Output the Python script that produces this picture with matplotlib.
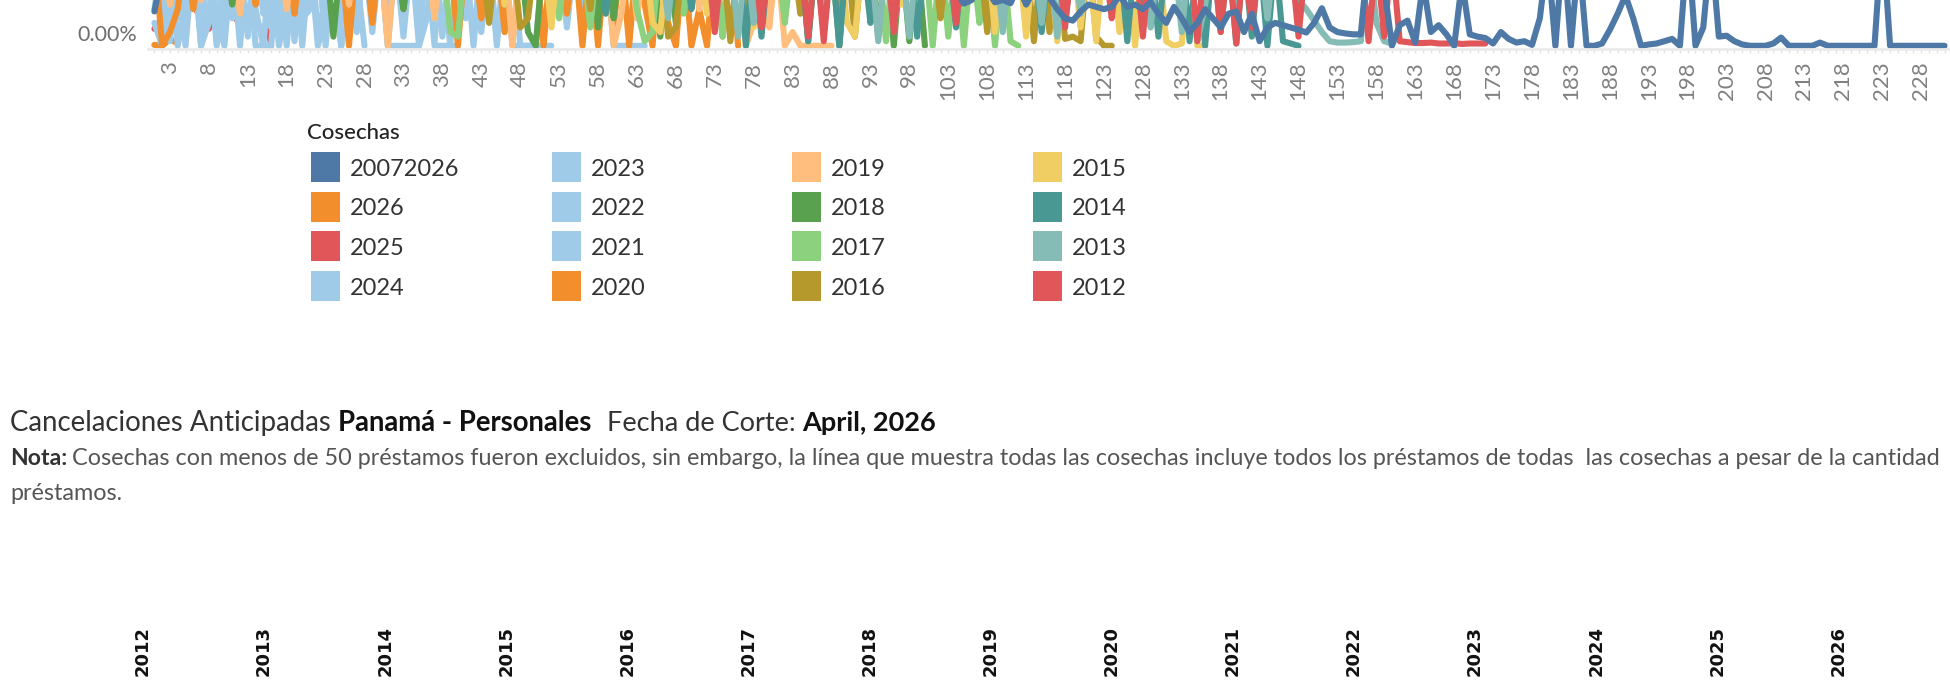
import numpy as np
import matplotlib
matplotlib.use('Agg')
import matplotlib.pyplot as plt
from matplotlib.patches import Rectangle
from matplotlib.transforms import ScaledTranslation

plt.rcParams['font.family'] = ['Lato', 'DejaVu Sans']

# --- data: tasa mensual de cancelacion anticipada por mes de vida (unidad = alto visible del eje) ---
cosechas = ['20072026', '2026', '2025', '2024', '2023', '2022', '2021', '2020',
            '2019', '2018', '2017', '2016', '2015', '2014', '2013', '2012']
colores = ['#4e79a7', '#f28e2b', '#e15759', '#a0cbe8', '#a0cbe8', '#a0cbe8', '#a0cbe8', '#f28e2b',
           '#ffbe7d', '#59a14f', '#8cd17d', '#b6992d', '#f1ce63', '#499894', '#86bcb6', '#e15759']

todas = [.75, 1.6, 2.1, 1.8, 2.3, 1.9, 2.2, 1.7, 2.0, 2.4,
         1.9, 2.1, 1.8, 2.2, 2.0, 1.7, 2.3, 1.9, 2.1, 1.8,
         2.0, 2.2, 1.9, 1.7, 2.1, 2.3, 1.8, 2.0, 1.9, 2.2,
         1.8, 2.1, 2.0, 1.7, 2.2, 1.9, 2.3, 1.8, 2.0, 2.1,
         1.9, 1.7, 2.2, 2.0, 1.8, 2.1, 1.9, 2.3, 2.0, 1.8,
         2.1, 1.9, 1.7, 2.2, 2.0, 1.8, 2.1, 1.9, 2.2, 1.7,
         2.0, 1.8, 2.1, 1.9, 2.3, 1.7, 2.0, 1.9, 2.2, 1.8,
         1.6, 1.9, 2.1, 1.8, 1.7, 2.0, 1.9, 1.6, 1.8, 2.1,
         1.7, 1.9, 1.6, 1.8, 2.0, 1.7, 1.5, 1.8, 1.6, 1.9,
         1.7, 1.5, 1.8, 1.6, 1.4, 1.7, 1.5, 1.6, 1.4, 1.5,
         1.3, 1.6, 1.4, 1.2, .92, 1.0, 1.3, 1.2, .95, 1.0,
         .93, 1.3, .9, 1.2, 1.1, 1.05, .8, .6, .55, .75,
         .9, .85, .8, .85, 1.1, .85, .9, .8, .95, .7,
         .5, .85, .6, .3, .5, .8, .6, .4, .7, .75,
         .3, .7, .1, .4, .5, .45, .4, .35, .29, .5,
         .82, .4, .3, .27, .25, .25, 2.0, 2.2, 1.3, 0,
         .45, .55, .07, 1.4, .3, .45, .25, 0, 1.4, .25,
         .2, .17, .05, .3, .15, .07, .1, .02, .6, 2.0,
         0, 2.2, 0, 2.0, 0, 0, .05, .35, .7, 1.1,
         .6, 0, .03, .05, .1, .15, 0, 2.3, 0, .4,
         2.2, .2, .22, .1, .03, 0, 0, 0, .05, .18,
         0, 0, 0, 0, .07, 0, 0, 0, 0, 0,
         0, 0, 2.5, 0, 0, 0, 0, 0, 0, 0, 0]
c2026 = [.02, 0, .15, .05]
c2025 = [.37, .6, .93, .9, 1.1, .9, .6, .37, .8, .95, .7, .48, .5, .9, 1.3, 0]
c2024 = [.5, 0, 2, .6, .9, 2, 0, .7, 2, .3, 2, .8, 2, 0, 0, 0, 2, .6, 2, 0,
         2, .4, .9, 2, 0, 2, 1.5, 0]
c2023 = [2, .3, .8, 2, 0, 2, .5, 2, 0, 2, .6, 2, .2, 2, .7, 2, 0, .8, 2, .5,
         2, 0, .6, 2, 0, 2, .3, 2, .8, 2, 0, 0, 0, 0, 0, 2, .1, 2, 0, 0]
c2022 = [.8, 2, .1, 2, .6, 2, 0, .5, 2, .7, 2, 0, 2, .9, 2, .4, 2, 0, 2, .6,
         .8, 2, .3, 2, 0, 2, .7, 2, .5, 2, 0, 2, .2, 2, .8, 2, 0, 0, 0, 2,
         .6, 2, .3, 2, 0, 2, 0, 0, 0, 0, 0, 0]
c2021 = [2, .4, 2, 0, .9, 2, .2, 2, .6, 0, 2, .4, 2, .8, 0, 2, .5, 2, .1, 2,
         .9, 2, 0, 2, .6, 2, .4, 2, .3, 2, .7, 2, .4, 2, 0, .6, 2, .2, 2, .5,
         2, 0, 2, .8, 2, .3, 2, 0, 0, 0, 2, .6, 2, .4, 2, .7, 2, .2, 2, 0,
         0, 0, 0, 0]
c2020 = [2, 0, .3, .8, 2, .8, 2, 2, 1.2, 2, 2, 2, 2, .9, 2, 2, 2, 2, .7, 2,
         2, 2, 2, 2, 2, 0, 2, 2, .5, 2, 2, 2, .8, 2, 2, 2, 2, 2, 2, 0,
         2, 2, .6, 2, 2, .3, 2, 2, 2, 2, 0, 2, 2, .7, 2, 0, 2, 0, 2, .4,
         2, 0, 2, .9, 0, 2, .5, 0, 2, 0, .8, 0, 2, .2, 2, 0]
c2019 = [2, 2, .9, 2, 2, 2, 1, 2, 2, 2, 2, .7, 2, 2, 2, 2, 2, .8, 2, 2,
         2, 2, 2, 2, 2, .9, 2, 2, 2, 2, 0, 2, 2, 2, 2, 2, .6, 2, 2, 2,
         2, 2, 2, 2, 2, 2, 0, 2, 2, 2, 2, .8, 2, 2, 2, 2, .5, 2, 2, 0,
         .7, 2, .6, 2, 2, 2, .9, 2, 2, 2, .8, 2, 2, 2, 2, 2, 0, .5, 2, .4,
         2, 0, .3, 0, 0, 0, 0, 0]
c2018 = [2, 2, 2, 2, 1.1, 2, 2, 2, 2, 2, .9, 2, 2, 2, 2, 2, 2, 2, 2, 2,
         2, 2, 2, .2, 2, 2, 2, 2, 2, 2, 2, 2, .8, 2, 2, 2, 2, 2, 2, 2,
         2, 2, 2, 2, 2, 2, 2, 2, .3, 0, 2, 2, 2, 2, 2, 2, 2, .4, 2, .6,
         2, 2, 2, 2, 2, .2, 2, .5, 2, 2, 2, .8, 2, 2, 2, 2, 2, 2, 2, 2,
         2, 2, 2, 2, .1, 2, .3, 2, 0, 2, .6, 2, 2, .2, 2, 0, 2, .1, 2, 0]
c2017 = [2, 2, 1.8, 2, 2, 2, 1.4, 2, 2, 2, 2, 1.7, 2, 2, 2, 2, 2, 1.2, 2, 2,
         2, 2, 2, 2, 2, 2, 1.5, 2, 2, 2, 2, 2, 2, 2, 2, 2, 2, 2, .3, .2,
         2, 2, 2, 2, 2, .9, 2, 2, 2, 2, 2, 2, .6, 2, 2, 2, .4, 2, 2, 2,
         2, 2, .8, .1, .3, 2, 2, 2, .7, 2, 2, 2, 2, .2, 2, 2, 2, .9, 2, 2,
         2, .5, 2, 2, 2, 2, .3, 2, 2, 2, .6, 2, 2, 2, .1, 2, 2, 2, .7, 2,
         0, 2, .2, 2, 0, 2, .5, 2, 0, 2, .1, 0]
c2016 = [2, 2, 2, 2, 1.6, 2, 2, 2, 2, 2, 2, 2, 2, 1.3, 2, 2, 2, 2, 2, 2,
         2, 2, 2, 2, 2, 2, 2, 2, 2, 1.1, 2, 2, 2, 2, 2, 2, 2, 2, 2, 2,
         2, 2, 2, .5, 2, 2, 2, .4, .6, 2, 2, 2, 2, 2, 2, 2, .8, 2, 2, 2,
         2, 2, 2, 2, 2, 2, .2, .4, 2, 2, 2, 2, .5, 2, .1, 2, .6, 2, .3, 2,
         2, 2, 2, .7, 2, 2, 2, 2, .4, 2, .2, 2, 2, 2, 2, .8, 2, 2, 2, 2,
         2, .6, 2, 2, 2, 2, 2, .3, 2, 2, 2, 2, 2, .1, 2, .3, 2, .15, .2, .1,
         2, .2, 0, 0]
c2015 = [2, 2, 2, 2, 2, 2, 2, 2, 1.2, 2, 2, 2, 2, 2, 2, 2, 2, 2, 2, 2,
         1.4, 2, 2, 2, 2, 2, 2, 2, 2, 2, 2, 2, 2, 2, 1.5, 2, 2, 2, 2, 2,
         2, 2, 2, 2, 2, .9, 2, 2, 2, 2, 2, .4, 2, 2, 2, 2, 2, 2, 2, 2,
         2, 2, 2, 2, .5, .3, 2, 2, 2, 2, 2, .7, 2, 2, 2, 2, 2, .4, 2, 2,
         2, 2, 2, 2, .6, 2, 2, 2, 2, .5, .2, 2, 2, 2, 2, 2, .9, 2, 2, 2,
         2, 2, 2, .6, 2, 2, 2, 2, .3, 2, 2, 2, .2, 2, .7, 2, .1, 2, 2, .4,
         2, .1, 2, 2, .3, 2, 0, 2, .6, 2, .1, 0, .05, 2, 0, 0]
c2014 = [2, 1.9, 2.2, 2, 1.7, 2, 2.1, 2, 1.8, 2, 2, 2, 2, 2, 2, 2, 1.3, 2, 2, 2,
         2, 2, 2, 2, 2, 2, 2, 2, 2, 2, 2, 2, 2, 2, 2, 2, 2, 1.6, 2, 2,
         2, 2, 2, 2, 2, 2, 2, 2, 2, 2, 2, 2, 2, 2, 2, 2, 2, 2, .7, 2,
         2, 2, 2, 2, 2, 2, 2, 2, 2, .8, 2, 2, 2, 2, 2, 2, 0, 2, .2, 2,
         2, 2, 2, 2, .1, 2, .3, 2, 0, 2, 2, 2, .5, 2, 2, 2, 2, 2, .2, 2,
         2, 2, 2, .4, 2, 2, 2, 2, 2, .6, 2, 2, 2, 2, .3, 2, 2, .5, 2, 2,
         2, 2, 2, 2, 2, .1, 2, .4, 2, .2, 2, 2, 2, .1, 2, 0, 2, .3, 2, .05,
         2, .2, 2, 0, 2, .1, .05, 0]
c2013 = [2, 2, 2, 2, 2, 2, 2, 2, 2, 2, 2, 2, 2, 2, 2, 2, 2, 2, 2, 2,
         2, 2, 2, 2, 2, 2, 2, 2, 2, 2, 2, 2, 2, 2, 2, 2, 2, 2, 2, 2,
         2, 2, 2, 2, 2, 2, 2, 2, 2, 2, 2, 2, 2, 2, 2, 2, 2, 2, 2, 2,
         2, 2, 2, 2, 2, 2, .6, 2, 2, 2, 2, 2, 2, 2, 2, .2, 2, .5, 2, 2,
         2, 2, 2, 2, 2, 2, .4, 2, 2, 2, 2, 2, 2, .1, 2, .3, 2, .2, 2, 2,
         2, 2, 2, 2, 2, 2, 2, 2, 2, .3, 2, 2, 2, 2, .5, 2, .2, 2, 2, .7,
         2, 2, 2, 2, 2, 2, 2, 2, .4, 2, 2, 2, .3, 2, .1, .9, 2, 2, 2, .5,
         2, 2, 2, .6, 2, 2, 1.2, 1.0, .8, .55, .3, .1, .07, .07, .08, .1, 2, .5, .1, .05]
c2012 = [2, 2, 2, 2, 2, 2, 2, 2, 2, 2, 2, 2, 2, 2, 2, 2, 2, 2, 2, 2,
         2, 2, 2, 2, 2, 2, 2, 2, 2, 2, 2, 2, 2, 2, 2, 2, 2, 2, 2, 2,
         2, 2, 2, 2, 2, 2, 2, 2, 2, 2, 2, 2, 2, 2, 2, 2, 2, 2, 2, 2,
         2, 2, 2, 2, 2, 2, 2, 2, 2, 2, 2, 2, .3, 2, 2, 2, 2, 2, .4, 2,
         2, 2, 2, 2, .2, 2, .1, 2, 2, 2, 2, 2, 2, 2, 2, .3, 2, 2, 2, 2,
         2, 2, 2, .5, 2, 2, 2, 2, 2, 2, 2, 2, 2, 2, 2, 2, 2, .4, 2, 2,
         2, 2, 2, .6, 2, 2, 2, .2, 2, 2, 2, 2, 2, 2, .1, 2, 2, .3, 2, .05,
         2, .4, 2, 2, 2, 2, 2, .2, 2, 2, 2, 2, 2, 2, 2, 2, .1, 2, .2, 2,
         .1, .08, .06, .06, .07, .05, .05, .06, .04, .05, .05, .05]
valores = [todas, c2026, c2025, c2024, c2023, c2022, c2021, c2020,
           c2019, c2018, c2017, c2016, c2015, c2014, c2013, c2012]

anios_cabecera = ['2012', '2013', '2014', '2015', '2016', '2017', '2018', '2019',
                  '2020', '2021', '2022', '2023', '2024', '2025', '2026']

W, H = 1950, 697
fig = plt.figure(figsize=(W / 100, H / 100), dpi=100)


def fx(px):
    return px / W


def fy(py):
    return 1 - py / H


ax = fig.add_axes([fx(148), fy(49), 1 - fx(148), 49 / H])

# las cosechas mas nuevas abajo, "todas" encima
for lab, vals, col in list(zip(cosechas, valores, colores))[1:]:
    ax.plot(np.arange(1, len(vals) + 1), vals, color=col, lw=4.4,
            solid_joinstyle='round', solid_capstyle='round')
ax.plot(np.arange(1, len(todas) + 1), todas, color=colores[0], lw=4.4,
        solid_joinstyle='round', solid_capstyle='round')

ax.set_xlim(0.18, 231.7)
ax.set_ylim(-0.07, 1.0)
for s in ['top', 'right', 'left']:
    ax.spines[s].set_visible(False)
ax.spines['bottom'].set_color('#ebebeb')
ax.spines['bottom'].set_linewidth(2)

ax.set_xticks(range(3, 232, 5))
ax.set_xticks(range(1, 232), minor=True)
ax.tick_params(axis='x', which='both', length=3, width=1, color='#e3e3e3')
ax.tick_params(axis='x', which='major', labelsize=16, labelcolor='#808080',
               labelrotation=90, pad=6)
ax.set_yticks([0])
ax.set_yticklabels(['0.00%'])
ax.tick_params(axis='y', length=0, labelsize=15.5, labelcolor='#6e6e6e', pad=8)
for lbl in ax.get_yticklabels():
    lbl.set_transform(lbl.get_transform() + ScaledTranslation(0, 0.13, fig.dpi_scale_trans))
ax.patch.set_alpha(0)

# leyenda
fig.text(fx(307), fy(133), 'Cosechas', fontsize=16, fontweight='medium', color='#222222',
         va='center', ha='left')
for i, (lab, col) in enumerate(zip(cosechas, colores)):
    x0 = 311 + 240.5 * (i // 4)
    yc = 167 + 39.7 * (i % 4)
    fig.add_artist(Rectangle((fx(x0), fy(yc + 15)), 29 / W, 30 / H,
                             transform=fig.transFigure, color=col, lw=0))
    fig.text(fx(x0 + 39), fy(yc + 8.5), lab, fontsize=17, color='#333333',
             va='baseline', ha='left')

renderer = fig.canvas.get_renderer()


def put(txt, x0, x1, ybase, size, **kw):
    t = fig.text(fx(x0), fy(ybase), txt, fontsize=size, va='baseline', ha='left', **kw)
    if x1 is not None:
        w = t.get_window_extent(renderer).width
        t.set_fontsize(size * (x1 - x0) / w)
    return t


put('Cancelaciones Anticipadas', 10, 332, 431, 19, color='#333333')
put('Panamá - Personales', 338, 592, 431, 19, color='#111111', fontweight='bold')
put('Fecha de Corte:', 607, 796, 431, 19, color='#333333')
put('April, 2026', 802, 936, 431, 19, color='#111111', fontweight='bold')

put('Nota:', 10, 67, 465, 15, color='#333333', fontweight='bold')
nota = put('Cosechas con menos de 50 préstamos fueron excluidos, sin embargo, la línea que muestra '
           'todas las cosechas incluye todos los préstamos de todas  las cosechas a pesar de la cantidad',
           72, 1944, 465, 15, color='#555555')
put('préstamos.', 10, None, 500, nota.get_fontsize(), color='#555555')

for i, a in enumerate(anios_cabecera):
    fig.text(fx(143 + 121.1 * i), fy(651), a, rotation=90, fontsize=13, fontweight='bold',
             family='DejaVu Sans', color='#111111', ha='center', va='center')

fig.savefig('out.png', dpi=100)
